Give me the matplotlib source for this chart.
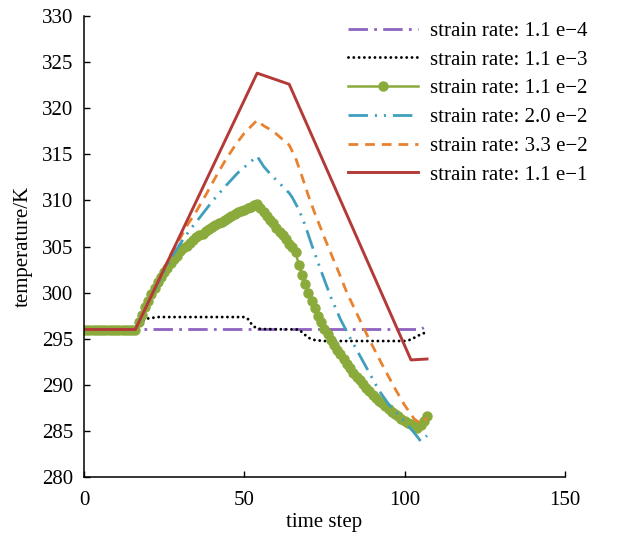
import matplotlib
matplotlib.use("Agg")
import matplotlib.pyplot as plt
import numpy as np

plt.rcParams['font.family'] = ['Liberation Serif', 'DejaVu Serif']
plt.rcParams['lines.scale_dashes'] = False

# strain rate 1.1e-4 (purple)
t_a = [0, 105, 106]
T_a = [296.0, 296.0, 296.2]

# strain rate 1.1e-3 (black dotted)
t_b = [0, 16, 17, 18, 20, 23, 50, 51, 52, 53, 55, 67, 68, 70, 72, 75, 100, 102, 104, 106, 107]
T_b = [296.0, 296.0, 296.5, 296.9, 297.2, 297.35, 297.35, 297.2, 296.7, 296.3, 296.05,
       296.0, 295.7, 295.1, 294.85, 294.75, 294.75, 294.9, 295.3, 295.6, 295.8]

# strain rate 1.1e-2 (green, one value per time step)
t_c = np.arange(108)
T_c = [296.0] * 17 + [
    296.8, 297.6, 298.4, 299.1, 299.8, 300.5, 301.1, 301.7, 302.2, 302.7,
    303.2, 303.6, 304.0, 304.5, 304.8, 305.1, 305.4, 305.7, 306.0, 306.2,
    306.4, 306.7, 306.9, 307.1, 307.3, 307.5, 307.7, 307.9, 308.1, 308.3,
    308.5, 308.7, 308.9, 309.0, 309.2, 309.3, 309.5, 309.6,
    309.2, 308.7, 308.3, 307.9, 307.5, 307.0, 306.6, 306.2, 305.8, 305.3,
    304.9, 304.4,
    303.0, 301.9, 300.9, 300.0, 299.1, 298.3, 297.5, 296.8, 296.1, 295.5,
    294.9, 294.3, 293.8, 293.3, 292.8, 292.3, 291.8, 291.3, 290.9, 290.5,
    290.1, 289.7, 289.3, 288.9, 288.6, 288.3, 288.0, 287.7, 287.4, 287.1,
    286.8, 286.6, 286.3, 286.1, 285.9, 285.7, 285.5, 285.3, 285.6, 286.1,
    286.6]

# strain rate 2.0e-2 (teal)
t_d = [0, 16, 17, 18, 20, 22, 25, 28, 30, 33, 36, 40, 44, 48, 51, 54, 56, 58, 60, 62, 64,
       65, 67, 69, 71, 74, 77, 80, 83, 86, 89, 92, 95, 98, 101, 103, 105, 107]
T_d = [296.0, 296.0, 296.7, 297.4, 298.9, 300.3, 302.3, 304.2, 305.3, 306.8, 308.1, 309.9,
       311.5, 313.0, 313.9, 314.8, 313.7, 312.9, 312.2, 311.5, 310.8, 310.3, 309.0, 307.3,
       305.2, 302.3, 299.5, 297.1, 295.1, 293.2, 291.3, 289.4, 287.9, 286.8, 285.6, 284.8,
       283.9, 284.5]

# strain rate 3.3e-2 (orange)
t_e = [0, 16, 17, 18, 20, 22, 25, 27, 30, 32, 35, 38, 41, 44, 47, 50, 52, 54, 56, 59, 62,
       64, 66, 68, 70, 72, 76, 79, 82, 85, 89, 93, 97, 100, 103, 105, 107]
T_e = [296.0, 296.0, 296.7, 297.5, 298.9, 300.4, 302.6, 304.1, 305.9, 307.2, 308.8, 310.6,
       312.5, 314.3, 315.9, 317.3, 318.0, 318.7, 318.1, 317.5, 316.6, 316.0, 314.6, 312.6,
       310.5, 308.6, 305.1, 302.6, 300.0, 297.8, 294.9, 292.2, 289.6, 287.8, 286.3, 285.8,
       286.4]

# strain rate 1.1e-1 (red)
t_f = [0, 16, 54, 64, 102, 107]
T_f = [296.0, 296.0, 323.8, 322.6, 292.7, 292.8]

labels = ['strain rate: 1.1 e\u22124', 'strain rate: 1.1 e\u22123', 'strain rate: 1.1 e\u22122',
          'strain rate: 2.0 e\u22122', 'strain rate: 3.3 e\u22122', 'strain rate: 1.1 e\u22121']

fig = plt.figure(figsize=(6.18, 5.33), dpi=100)
ax = fig.add_axes([0.136, 0.105, 0.778, 0.865])

ax.plot(t_a, T_a, color='#8e62c0', lw=2.0, dashes=(14, 4.5, 2, 4.5), label=labels[0])
ax.plot(t_b, T_b, color='black', lw=2.1, dashes=(0.01, 3.8), dash_capstyle='round',
        label=labels[1])
ax.plot(t_c, T_c, color='#8aab3c', lw=1.8, marker='o', markersize=6.5, label=labels[2])
ax.plot(t_d, T_d, color='#3f9fbd', lw=2.0, dashes=(14, 5, 1.5, 5, 1.5, 5), label=labels[3])
ax.plot(t_e, T_e, color='#e8822f', lw=2.0, dashes=(7, 5), label=labels[4])
ax.plot(t_f, T_f, color='#b33a36', lw=2.1, label=labels[5])

ax.set_xlim(0, 150)
ax.set_ylim(280, 330)
ax.set_xticks([0, 50, 100, 150])
ax.set_yticks(np.arange(280, 331, 5))
ax.spines['top'].set_visible(False)
ax.spines['right'].set_visible(False)
for s in ['left', 'bottom']:
    ax.spines[s].set_linewidth(1.1)
ax.tick_params(direction='in', length=4.5, width=1.0, labelsize=15, pad=8)
ax.tick_params(axis='x', pad=10)
ax.set_xlabel('time step', fontsize=15, labelpad=2)
ax.set_ylabel('temperature/K', fontsize=15, labelpad=6)

ax.legend(loc='upper left', bbox_to_anchor=(0.532, 0.995), bbox_transform=fig.transFigure,
          frameon=False, fontsize=15, handlelength=3.36, handletextpad=0.62,
          labelspacing=0.44)

fig.savefig('out.png', dpi=100)
